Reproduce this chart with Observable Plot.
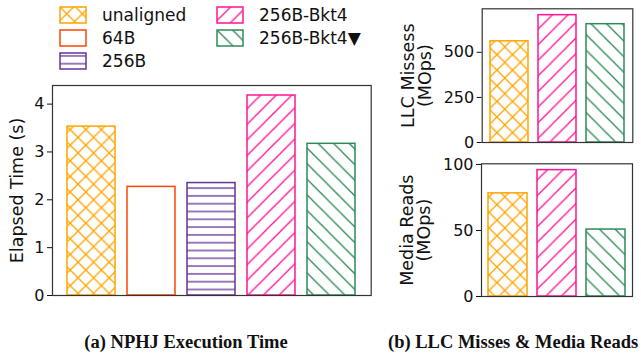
<!DOCTYPE html>
<html>
<head>
<meta charset="utf-8">
<script src="https://cdn.jsdelivr.net/npm/d3@7"></script>
<script src="https://cdn.jsdelivr.net/npm/@observablehq/plot@0.6"></script>
<style>
  html, body { margin: 0; padding: 0; background: #fff; }
  #root { position: relative; width: 641px; height: 360px; overflow: hidden; font-family: "DejaVu Sans", sans-serif; }
  .legend-item { position: absolute; display: flex; align-items: center; font-size: 17px; color: #111; white-space: nowrap; }
  .legend-item svg { margin-right: 15px; }
  .caption { position: absolute; font-family: "Liberation Serif", serif; font-weight: bold; font-size: 18.5px; color: #111; white-space: nowrap; }
  g[aria-label="y-axis label"] { font-size: 17.5px; }
</style>
</head>
<body>
<div id="root">
  <svg width="0" height="0" style="position:absolute">
    <defs id="defs"></defs>
  </svg>
</div>
<script>
// ---- data ----
const names = ["unaligned", "64B", "256B", "256B-Bkt4", "256B-Bkt4▼"];
const colors = ["#FFA500", "#FF4500", "#663399", "#FF1493", "#2E8B57"];
const hatches = ["x", "", "-", "/", "\\"];
const elapsedTime = [3.53, 2.27, 2.35, 4.18, 3.17];
const subNames = ["unaligned", "256B-Bkt4", "256B-Bkt4▼"];
const llcMisses = [561, 706, 656];
const mediaReads = [78.1, 95.7, 50.7];
const timeTicks = [0, 1, 2, 3, 4];
const llcTicks = [0, 250, 500];
const mediaTicks = [0, 50, 100];
const legendRows = [["unaligned", "256B-Bkt4"], ["64B", "256B-Bkt4▼"], ["256B", null]];

// ---- hatch patterns ----
const ns = "http://www.w3.org/2000/svg";
const defs = document.getElementById("defs");
const H = 15.6;
function pattern(id, w, h, color, lines) {
  const p = document.createElementNS(ns, "pattern");
  p.setAttribute("id", id);
  p.setAttribute("patternUnits", "userSpaceOnUse");
  p.setAttribute("width", w);
  p.setAttribute("height", h);
  const bg = document.createElementNS(ns, "rect");
  bg.setAttribute("width", w); bg.setAttribute("height", h); bg.setAttribute("fill", "white");
  p.appendChild(bg);
  for (const [x1, y1, x2, y2] of lines) {
    const l = document.createElementNS(ns, "line");
    l.setAttribute("x1", x1); l.setAttribute("y1", y1);
    l.setAttribute("x2", x2); l.setAttribute("y2", y2);
    l.setAttribute("stroke", color); l.setAttribute("stroke-width", 1.3);
    p.appendChild(l);
  }
  defs.appendChild(p);
}
const fillOf = {}, strokeOf = {};
names.forEach((n, i) => {
  const id = "hatch" + i, c = colors[i], h = hatches[i];
  strokeOf[n] = c;
  if (h === "x") {
    pattern(id, H, H, c, [[-1, -1, H + 1, H + 1], [-1, H + 1, H + 1, -1]]);
    fillOf[n] = `url(#${id})`;
  } else if (h === "/") {
    pattern(id, H, H, c, [[-1, H + 1, H + 1, -1], [-2, 2, 2, -2], [H - 2, H + 2, H + 2, H - 2]]);
    fillOf[n] = `url(#${id})`;
  } else if (h === "\\") {
    pattern(id, H, H, c, [[-1, -1, H + 1, H + 1], [H - 2, -2, H + 2, 2], [-2, H - 2, 2, H + 2]]);
    fillOf[n] = `url(#${id})`;
  } else if (h === "-") {
    pattern(id, 10, H / 2, c, [[0, H / 4, 10, H / 4]]);
    fillOf[n] = `url(#${id})`;
  } else {
    fillOf[n] = "white";
  }
});

const root = document.getElementById("root");

// ---- legend ----
const legendX = [59, 216];
legendRows.forEach((row, r) => {
  row.forEach((n, c) => {
    if (!n) return;
    const item = document.createElement("div");
    item.className = "legend-item";
    item.style.left = legendX[c] + "px";
    item.style.top = (4 + r * 23) + "px";
    item.style.height = "22px";
    item.innerHTML = `<svg width="28" height="18"><rect x="1" y="1" width="26" height="16" fill="${fillOf[n]}" stroke="${strokeOf[n]}" stroke-width="1.5"/></svg>`;
    const t = document.createElement("span");
    t.textContent = n;
    item.appendChild(t);
    root.appendChild(item);
  });
});

// ---- charts ----
function chart({cats, values, ticks, label, labelOffset, width, height, ml, mr, mt, mb, po, left, top}) {
  const data = cats.map((n, i) => ({name: n, value: values[i], fill: fillOf[n], stroke: strokeOf[n]}));
  const svg = Plot.plot({
    width, height,
    marginLeft: ml, marginRight: mr, marginTop: mt, marginBottom: mb,
    style: {fontFamily: "DejaVu Sans", fontSize: "16px", color: "#111", background: "transparent", overflow: "visible"},
    x: {domain: cats, paddingInner: 0.2, paddingOuter: po, axis: null},
    y: {domain: [0, d3.max(values) * 1.05], ticks, tickSize: 5, tickPadding: 3, label, labelAnchor: "center", labelArrow: "none", labelOffset, tickFormat: d3.format("d")},
    color: {type: "identity"},
    marks: [
      Plot.barY(data, {x: "name", y: "value", fill: "fill", stroke: "stroke", strokeWidth: 1.5}),
      Plot.frame({stroke: "#333", strokeWidth: 1.2})
    ]
  });
  svg.style.position = "absolute";
  svg.style.left = left + "px";
  svg.style.top = top + "px";
  root.appendChild(svg);
}

chart({cats: names, values: elapsedTime, ticks: timeTicks, label: "Elapsed Time (s)", labelOffset: 42,
  width: 380, height: 235, ml: 52, mr: 9.3, mt: 10, mb: 15, po: 0.24, left: 0, top: 75});
chart({cats: subNames, values: llcMisses, ticks: llcTicks, label: "LLC Missess\n(MOps)", labelOffset: 81,
  width: 261, height: 150, ml: 101.7, mr: 8.7, mt: 8.3, mb: 8, po: 0.14, left: 380, top: 0});
chart({cats: subNames, values: mediaReads, ticks: mediaTicks, label: "Media Reads\n(MOps)", labelOffset: 81,
  width: 261, height: 160, ml: 101, mr: 9, mt: 13.3, mb: 14, po: 0.14, left: 380, top: 150});

// ---- captions ----
const capA = document.createElement("div");
capA.className = "caption";
capA.textContent = "(a) NPHJ Execution Time";
capA.style.left = "186px"; capA.style.top = "332px"; capA.style.transform = "translateX(-50%)";
root.appendChild(capA);
const capB = document.createElement("div");
capB.className = "caption";
capB.textContent = "(b) LLC Misses & Media Reads";
capB.style.left = "388px"; capB.style.top = "332px";
root.appendChild(capB);
</script>
</body>
</html>
